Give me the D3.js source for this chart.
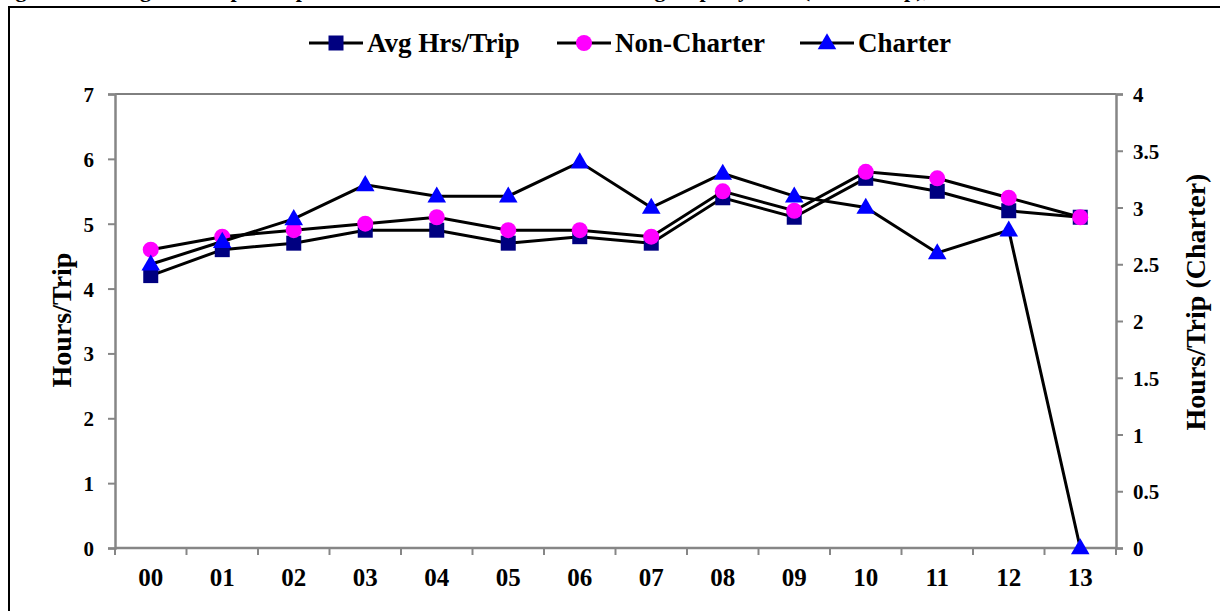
<!DOCTYPE html>
<html>
<head>
<meta charset="utf-8">
<script src="https://cdn.jsdelivr.net/npm/d3@7"></script>
<style>
  html, body { margin: 0; padding: 0; background: #fff; }
  svg { display: block; }
  text { font-family: "Liberation Serif", "Times New Roman", serif; font-weight: bold; fill: #000; }
</style>
</head>
<body>
<svg id="chart" width="1220" height="611"></svg>
<script>
const categories = ["00","01","02","03","04","05","06","07","08","09","10","11","12","13"];
const avgHrsTrip = [4.2,4.6,4.7,4.9,4.9,4.7,4.8,4.7,5.4,5.1,5.7,5.5,5.2,5.1];
const nonCharter = [4.6,4.8,4.9,5.0,5.1,4.9,4.9,4.8,5.5,5.2,5.8,5.7,5.4,5.1];
const charter    = [2.5,2.7,2.9,3.2,3.1,3.1,3.4,3.0,3.3,3.1,3.0,2.6,2.8,0];
const leftTicks  = [0,1,2,3,4,5,6,7];
const rightTicks = [0,0.5,1,1.5,2,2.5,3,3.5,4];
const seriesNames = ["Avg Hrs/Trip","Non-Charter","Charter"];

const svg = d3.select("#chart");
const L = 115, R = 1116, T = 94, B = 548;

// cropped title above frame (only descenders visible, as in the reference)
svg.append("text").attr("x", -4).attr("y", -3).style("font-size", "22px")
  .text("Figure 6. Average Hours per Trip for Charter and Non-Charter Fishing Trips by Year (Hours/Trip), 2000-2013");

// outer frame
svg.append("path").attr("d", `M9,611 L9,7 L1220,7`).attr("fill", "none").attr("stroke", "#000").attr("stroke-width", 2);

const x = d3.scaleBand().domain(categories).range([L, R]);
const yL = d3.scaleLinear().domain([0, 7]).range([B, T]);
const yR = d3.scaleLinear().domain([0, 4]).range([B, T]);

// plot area top border
svg.append("line").attr("x1", L).attr("x2", R).attr("y1", T).attr("y2", T).attr("stroke", "#000").attr("stroke-width", 1);

// axes
const gray = "#868686";
const axL = svg.append("g").attr("transform", `translate(${L},0)`)
  .call(d3.axisLeft(yL).tickValues(leftTicks).tickSize(7).tickPadding(14).tickFormat(d3.format("d")));
const axR = svg.append("g").attr("transform", `translate(${R},0)`)
  .call(d3.axisRight(yR).tickValues(rightTicks).tickSize(7).tickPadding(10).tickFormat(d => String(d)));
const axB = svg.append("g").attr("transform", `translate(0,${B})`)
  .call(d3.axisBottom(x).tickSize(0).tickPadding(20));
// boundary ticks for band axis
const bounds = categories.map(c => x(c)).concat([R]);
svg.append("g").selectAll("line").data(bounds).join("line")
  .attr("x1", d => d).attr("x2", d => d).attr("y1", B).attr("y2", B + 7)
  .attr("stroke", gray).attr("stroke-width", 2);

[axL, axR, axB].forEach(a => {
  a.select(".domain").attr("stroke", gray).attr("stroke-width", 2.5);
  a.selectAll(".tick line").attr("stroke", gray).attr("stroke-width", 2);
  a.selectAll("text").style("font-size", "21px").attr("fill", "#000");
});
axB.select(".domain").attr("d", `M${L},0H${R}`);
axB.selectAll("text").style("font-size", "25px").attr("dy", "0.71em");
axL.selectAll(".tick text").attr("dy", "0.36em");
axR.selectAll(".tick text").attr("dy", "0.36em");

// axis titles
svg.append("text").attr("transform", `translate(71,320) rotate(-90)`)
  .attr("text-anchor", "middle").style("font-size", "28px").text("Hours/Trip");
svg.append("text").attr("transform", `translate(1205,302) rotate(-90)`)
  .attr("text-anchor", "middle").style("font-size", "28px").text("Hours/Trip (Charter)");

const cx = c => x(c) + x.bandwidth() / 2;
const line = d3.line();

// series
const s1 = categories.map((c, i) => [cx(c), yL(avgHrsTrip[i])]);
const s2 = categories.map((c, i) => [cx(c), yL(nonCharter[i])]);
const s3 = categories.map((c, i) => [cx(c), yR(charter[i])]);

const triPath = d3.symbol().type(d3.symbolTriangle).size(150)();

function drawSeries(pts, kind) {
  svg.append("path").attr("d", line(pts)).attr("fill", "none").attr("stroke", "#000").attr("stroke-width", 3);
  const g = svg.append("g");
  pts.forEach(p => drawMarker(g, p[0], p[1], kind));
}
function drawMarker(g, px, py, kind) {
  if (kind === 0) {
    g.append("rect").attr("x", px - 7.5).attr("y", py - 7.5).attr("width", 15).attr("height", 15).attr("fill", "#000080");
  } else if (kind === 1) {
    g.append("circle").attr("cx", px).attr("cy", py).attr("r", 8).attr("fill", "#FF00FF");
  } else {
    g.append("path").attr("d", triPath).attr("transform", `translate(${px},${py + 1})`).attr("fill", "#0000FF");
  }
}
drawSeries(s1, 0);
drawSeries(s2, 1);
drawSeries(s3, 2);

// legend
const legX = [309, 557, 800];
const lg = svg.append("g");
seriesNames.forEach((n, i) => {
  const x0 = legX[i], yy = 43;
  lg.append("line").attr("x1", x0).attr("x2", x0 + 54).attr("y1", yy).attr("y2", yy).attr("stroke", "#000").attr("stroke-width", 3);
  drawMarker(lg, x0 + 27, yy, i);
  lg.append("text").attr("x", x0 + 58).attr("y", yy + 9).style("font-size", "27px").text(n);
});
</script>
</body>
</html>
